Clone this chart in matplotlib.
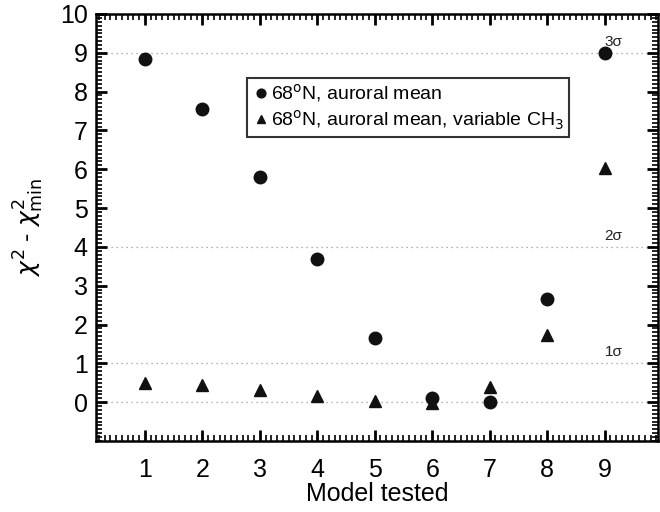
import matplotlib
matplotlib.use("Agg")
import matplotlib.pyplot as plt
from matplotlib.ticker import MultipleLocator

plt.rcParams["font.family"] = ["Liberation Sans", "DejaVu Sans"]

models = [1, 2, 3, 4, 5, 6, 7, 8, 9]
auroral_mean = [8.83, 7.55, 5.80, 3.70, 1.65, 0.12, 0.00, 2.65, 9.00]
variable_ch3 = [0.50, 0.45, 0.32, 0.17, 0.03, -0.03, 0.40, 1.73, 6.02]
sigma_levels = [1, 4, 9]
sigma_labels = ["1σ", "2σ", "3σ"]

fig = plt.figure(figsize=(6.6, 5.12), dpi=100)
ax = fig.add_axes([0.1455, 0.1387, 0.8515, 0.834])

# dotted reference lines at zero and the sigma levels
for lev in [0] + sigma_levels:
    ax.axhline(lev, color="#999999", linestyle=(0, (1, 3)), linewidth=0.9, zorder=1)
for lev, lab in zip(sigma_levels, sigma_labels):
    ax.text(9.0, lev + 0.1, lab, fontsize=11, ha="left", va="bottom", color="#222222")

ax.plot(models, auroral_mean, "o", color="#111111", markersize=9, linestyle="none",
        label="68$^{\\rm o}$N, auroral mean", zorder=3)
ax.plot(models, variable_ch3, "^", color="#111111", markersize=9, linestyle="none",
        label="68$^{\\rm o}$N, auroral mean, variable CH$_3$", zorder=3)

ax.set_xlim(0.15, 9.93)
ax.set_ylim(-1, 10)
ax.set_xticks(models)
ax.set_yticks(range(0, 11))
ax.xaxis.set_minor_locator(MultipleLocator(0.1))
ax.yaxis.set_minor_locator(MultipleLocator(0.1))
ax.tick_params(which="both", direction="in", top=True, right=True, labelsize=18, width=1.2)
ax.tick_params(which="major", length=8, width=2)
ax.tick_params(which="minor", length=4)
ax.tick_params(axis="x", pad=12)
ax.tick_params(axis="y", pad=6)
for sp in ax.spines.values():
    sp.set_linewidth(1.8)

ax.set_xlabel("Model tested", fontsize=18, labelpad=0)
ax.set_ylabel("$\\chi^2$ - $\\chi^2_{\\rm min}$", fontsize=18, labelpad=10)

leg = ax.legend(loc="upper left", bbox_to_anchor=(0.268, 0.851), fontsize=14, frameon=True,
                fancybox=False, handletextpad=0.0, handlelength=1.0, borderpad=0.25,
                labelspacing=0.2, markerscale=0.7, borderaxespad=0)
leg.get_frame().set_edgecolor("black")
leg.get_frame().set_linewidth(1.5)

fig.savefig("out.png", dpi=100)
